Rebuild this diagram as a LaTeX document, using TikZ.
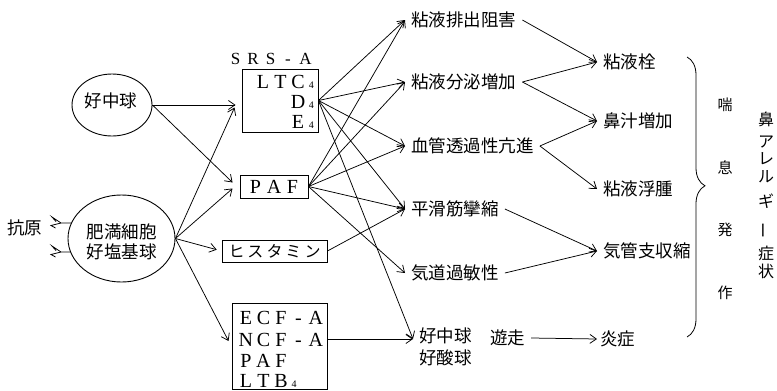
\documentclass[tikz,border=0pt]{standalone}
\usepackage{fontspec}
\setmainfont{Liberation Serif}
\newfontfamily\jp{Noto Sans CJK JP}
\usetikzlibrary{arrows.meta,decorations.pathreplacing,shapes.geometric}
\newcommand{\fw}[1]{\makebox[17.5pt]{#1}}
\newcommand{\fp}[1]{\makebox[18.5pt]{#1}}
\newcommand{\kb}[1]{\makebox[19pt]{#1}}
\newcommand{\subn}[1]{\kern2pt{\fontsize{10}{10}\selectfont #1}}
\begin{document}
\begin{tikzpicture}[x=1pt,y=-1pt,
  arr/.style={-{Straight Barb[length=6.5pt,width=9pt,line width=0.75pt]}, line width=0.75pt},
  jt/.style={font=\jp\fontsize{17.5}{17.5}\selectfont, inner sep=0pt},
  lt/.style={font=\fontsize{20}{20}\selectfont, inner sep=0pt},
  box/.style={draw, line width=0.9pt, inner sep=0pt},
  cell/.style={draw, ellipse, line width=0.9pt, inner sep=0pt},
  eff/.style={jt, inner xsep=6pt, inner ysep=0pt},
  vt/.style={font=\jp\fontsize{15}{15}\selectfont, inner sep=0pt}
]
\useasboundingbox (0,0) rectangle (777,391);

% cells
\node[cell, minimum width=80pt, minimum height=62pt] (neu) at (112,105) {};
\node[jt] (neut) at (111,100.5) {好中球};
\node[cell, minimum width=107pt, minimum height=87pt] (mast) at (121.5,238.5) {};
\node[jt, align=center] (mastt) at (121.5,242) {肥満細胞\\[3pt]好塩基球};
\node[jt] (ag) at (25,228) {抗原};

% antibodies
\foreach \yy/\xx in {223/71.5,252/70.8}{
  \draw[line width=0.8pt] (\xx,\yy) -- (61,\yy) -- (52,\yy-6) -- (56,\yy-1.5);
  \draw[line width=0.8pt] (61,\yy) -- (51,\yy+2.5) -- (55.5,\yy+5);
}

% mediator boxes
\node[box, minimum width=76pt, minimum height=63pt] (srsa) at (280,100.5) {};
\node[font=\fontsize{17}{17}\selectfont, inner sep=0pt] (srsal) at (270.5,59) {\fw{S}\fw{R}\fw{S}\fw{-}\fw{A}};
\node[lt, anchor=base east] (ltc) at (314,88) {\fw{L}\fw{T}\fw{C}\subn{4}};
\node[lt, anchor=base east] (d4) at (314,108) {\fw{D}\subn{4}};
\node[lt, anchor=base east] (e4) at (314,128.5) {\fw{E}\subn{4}};

\node[box, lt, minimum width=68pt, minimum height=23pt] (paf) at (274,186.5) {\fp{P}\fp{A}\fp{F}};
\node[box, font=\jp\fontsize{16}{16}\selectfont, minimum width=105pt, minimum height=22pt] (hist) at (274.5,251) {\kb{ヒ}\kb{ス}\kb{タ}\kb{ミ}\kb{ン}};
\node[box, minimum width=95pt, minimum height=86pt] (ecf) at (279.5,346) {};
\node[lt, anchor=base west] (e1) at (237,324) {\fw{E}\fw{C}\fw{F}\fw{-}\fw{A}};
\node[lt, anchor=base west] (e2) at (237,346.5) {\fw{N}\fw{C}\fw{F}\fw{-}\fw{A}};
\node[lt, anchor=base west] (e3) at (237,367) {\fw{P}\fw{A}\fw{F}};
\node[lt, anchor=base west] (e4b) at (237,387) {\fw{L}\fw{T}\fw{B}\subn{4}};

% effects
\node[eff, anchor=west] (m1) at (405,20) {粘液排出阻害};
\node[eff, anchor=west] (m2) at (405,82) {粘液分泌増加};
\node[eff, anchor=west] (m3) at (405,146) {血管透過性亢進};
\node[eff, anchor=west] (m4) at (405,209) {平滑筋攣縮};
\node[eff, anchor=west] (m5) at (405,273) {気道過敏性};
\node[eff, anchor=west] (n1) at (413,336) {好中球};
\node[eff, anchor=west] (n2) at (413,357.5) {好酸球};
\node[jt] (yu) at (507.5,338) {遊走};
\coordinate (n1in) at ([yshift=-3pt]n1.west);

% results
\node[eff, anchor=west] (r1) at (597,62) {粘液栓};
\node[eff, anchor=west] (r2) at (597,121) {鼻汁増加};
\node[eff, anchor=west] (r3) at (597,189) {粘液浮腫};
\node[eff, anchor=west] (r4) at (597,251) {気管支収縮};
\node[eff, anchor=west, inner xsep=3pt] (r5) at (597,339) {炎症};

% brace and vertical labels
\draw[line width=0.8pt, decorate, decoration={brace, amplitude=18pt, aspect=0.46}] (687,57) -- (687,337);
\node[vt] (a1) at (725,105) {喘};
\node[vt] (a2) at (725,168) {息};
\node[vt] (a3) at (725,230) {発};
\node[vt] (a4) at (725,293) {作};
\foreach \ch/\yy/\nm in {鼻/119/b1,ア/141.5/b2,レ/158.5/b3,ル/177/b4,ギ/201.5/b5,症/253.5/b7,状/271.5/b8}{
  \node[font=\jp\fontsize{16}{16}\selectfont, inner sep=0pt] (\nm) at (766,\yy) {\ch};
}
\node[font=\jp\fontsize{16}{16}\selectfont, inner sep=0pt, rotate=90] (b6) at (766,230) {ー};

% connectors: cells -> mediators
\draw[arr, shorten >=6pt] (neu.east) -- (neu.east -| srsa.west);
\draw[arr] (neu.east) -- ([xshift=-7pt,yshift=4pt]paf.west);
\draw[arr] (mast.east) -- ([xshift=-7pt,yshift=-7pt]srsa.west);
\draw[arr] (mast.east) -- ([xshift=-7pt,yshift=-2pt]paf.west);
\draw[arr, shorten >=5pt] (mast.east) -- (hist.west);
\draw[arr] (mast.east) -- ([xshift=-3pt,yshift=5pt]ecf.west);

% mediators -> effects
\foreach \t in {m1,m2,m3,m4}{
  \draw[arr] (srsa.east) -- (\t.west);
  \draw[arr] (paf.east) -- (\t.west);
}
\draw[arr] (srsa.east) -- (n1in);
\draw[arr] (paf.east) -- (m5.west);
\draw[arr] (hist.east) -- (m4.west);
\draw[arr] (ecf.east |- n1in) -- (n1in);

% effects -> results
\draw[arr] (m1.east) -- (r1.west);
\draw[arr] (m2.east) -- (r1.west);
\draw[arr] (m2.east) -- (r2.west);
\draw[arr] (m3.east) -- (r2.west);
\draw[arr] (m3.east) -- (r3.west);
\draw[arr] (m4.east) -- (r4.west);
\draw[arr] (m5.east) -- (r4.west);
\draw[arr] (yu.east) ++(6pt,0) -- (r5.west);
\end{tikzpicture}
\end{document}
